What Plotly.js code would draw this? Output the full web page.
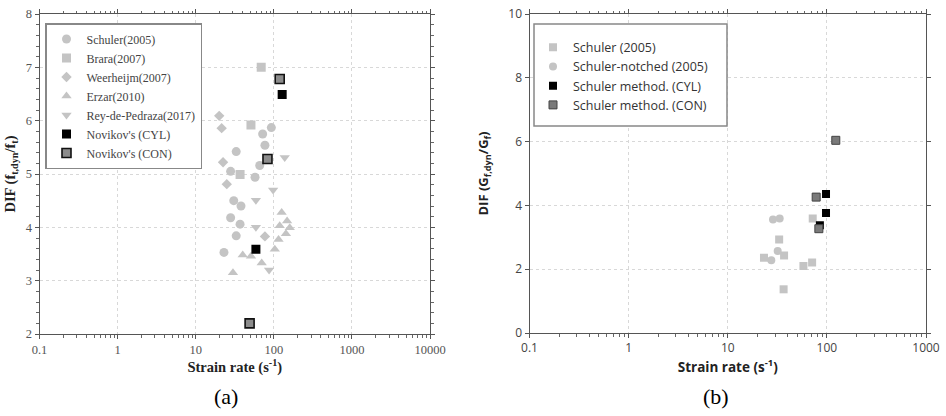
<!DOCTYPE html>
<html>
<head>
<meta charset="utf-8">
<script src="https://cdn.plot.ly/plotly-3.0.1.min.js"></script>
<style>html,body{margin:0;padding:0;background:#fff}#chart{width:946px;height:416px}</style>
</head>
<body>
<div id="chart"></div>
<script>
// ---- Panel (a): tensile DIF ----
const schulerA_x = [93, 72, 77, 33, 66, 28, 57.5, 30.7, 38, 28, 37, 33, 23];
const schulerA_y = [5.87, 5.75, 5.54, 5.42, 5.16, 5.05, 4.94, 4.5, 4.4, 4.18, 4.06, 3.84, 3.53];
const brara_x = [69, 51, 37];
const brara_y = [7.0, 5.92, 4.99];
const weer_x = [20, 21.5, 22.4, 25, 77];
const weer_y = [6.09, 5.86, 5.22, 4.81, 3.83];
const erzar_x = [126, 148, 119, 160, 143, 115, 103, 40, 51, 70, 30];
const erzar_y = [4.28, 4.12, 4.03, 3.99, 3.88, 3.77, 3.59, 3.48, 3.46, 3.33, 3.15];
const rey_x = [138, 98, 59, 59, 87];
const rey_y = [5.31, 4.7, 4.51, 4.0, 3.2];
const novCyl_x = [128, 59];
const novCyl_y = [6.49, 3.59];
const novCon_x = [119, 83, 49];
const novCon_y = [6.78, 5.28, 2.2];

// ---- Panel (b): fracture energy DIF ----
const schulerB_x = [23.2, 33, 37, 36.6, 58, 71, 72];
const schulerB_y = [2.36, 2.93, 2.43, 1.37, 2.1, 2.21, 3.59];
const notched_x = [28.6, 33.4, 31.9, 27.5];
const notched_y = [3.56, 3.59, 2.57, 2.28];
const methCyl_x = [98, 98, 85];
const methCyl_y = [4.36, 3.76, 3.38];
const methCon_x = [78, 83, 123];
const methCon_y = [4.26, 3.27, 6.04];

const tickValsA = [0.1, 1, 10, 100, 1000, 10000];
const tickTextA = ['0.1', '1', '10', '100', '1000', '10000'];
const tickValsB = [0.1, 1, 10, 100, 1000];
const tickTextB = ['0.1', '1', '10', '100', '1000'];

// minor tick positions (2..9 in each decade)
function minorVals(decades) {
  const out = [];
  decades.forEach(d => { for (let k = 2; k <= 9; k++) out.push(k * d); });
  return out;
}
const minorA = minorVals([0.1, 1, 10, 100, 1000]);
const minorB = minorVals([0.1, 1, 10, 100]);

const LG = '#c4c4c4';
const serif = 'Liberation Serif, Times New Roman, serif';
const sans = 'Open Sans, DejaVu Sans, sans-serif';

function tr(x, y, name, sym, size, color, line, xa, ya, leg) {
  return {x: x, y: y, name: name, type: 'scatter', mode: 'markers',
    xaxis: xa, yaxis: ya, legend: leg,
    marker: {symbol: sym, size: size, color: color, line: line || {width: 0}}};
}

const data = [
  tr(schulerA_x, schulerA_y, 'Schuler(2005)', 'circle', 9, LG, null, 'x', 'y', 'legend'),
  tr(brara_x, brara_y, 'Brara(2007)', 'square', 9, LG, null, 'x', 'y', 'legend'),
  tr(weer_x, weer_y, 'Weerheijm(2007)', 'diamond', 8, LG, null, 'x', 'y', 'legend'),
  tr(erzar_x, erzar_y, 'Erzar(2010)', 'triangle-up', 9, LG, null, 'x', 'y', 'legend'),
  tr(rey_x, rey_y, 'Rey-de-Pedraza(2017)', 'triangle-down', 9, LG, null, 'x', 'y', 'legend'),
  tr(novCyl_x, novCyl_y, "Novikov's (CYL)", 'square', 9, '#000', {width: 0}, 'x', 'y', 'legend'),
  tr(novCon_x, novCon_y, "Novikov's (CON)", 'square', 9, '#8c8c8c', {width: 1.6, color: '#111'}, 'x', 'y', 'legend'),
  tr(schulerB_x, schulerB_y, 'Schuler (2005)', 'square', 8, LG, null, 'x2', 'y2', 'legend2'),
  tr(notched_x, notched_y, 'Schuler-notched (2005)', 'circle', 8, LG, null, 'x2', 'y2', 'legend2'),
  tr(methCyl_x, methCyl_y, 'Schuler method. (CYL)', 'square', 8, '#000', {width: 0}, 'x2', 'y2', 'legend2'),
  tr(methCon_x, methCon_y, 'Schuler method. (CON)', 'square', 8, '#7a7a7a', {width: 1, color: '#444'}, 'x2', 'y2', 'legend2')
];

const W = 946, H = 416;
const px = v => v / W, py = v => 1 - v / H;

function xax(dom, range, tv, tt, mv, font, tfont, title, anchor) {
  return {type: 'log', domain: dom, range: range, tickmode: 'array', tickvals: tv, ticktext: tt,
    showline: true, linecolor: '#555', linewidth: 1, mirror: 'ticks',
    ticks: 'outside', ticklen: 4, tickcolor: '#555',
    minor: {tickmode: 'array', tickvals: mv, ticks: 'outside', ticklen: 2.5, tickcolor: '#666', showgrid: false},
    showgrid: true, gridcolor: '#d8d8d8', griddash: 'dot', zeroline: false,
    tickfont: font, title: {text: title, font: tfont, standoff: 2}, anchor: anchor};
}

const layout = {
  width: W, height: H, margin: {l: 0, r: 0, t: 0, b: 0},
  paper_bgcolor: '#fff', plot_bgcolor: '#fff', showlegend: true,
  xaxis: xax([px(39.5), px(430)], [-1, 4], tickValsA, tickTextA, minorA,
    {family: serif, size: 12.5, color: '#555'}, {family: serif, size: 14.5, color: '#222'},
    '<b>Strain rate (s<sup>-1</sup>)</b>', 'y'),
  yaxis: {domain: [py(334), py(14)], range: [2, 8], dtick: 1, anchor: 'x',
    showline: true, linecolor: '#555', mirror: 'ticks', ticks: 'outside', ticklen: 4, tickcolor: '#555',
    minor: {dtick: 0.2, ticks: 'outside', ticklen: 2.5, tickcolor: '#666', showgrid: false},
    showgrid: true, gridcolor: '#d8d8d8', griddash: 'dot', zeroline: false,
    tickfont: {family: serif, size: 12.5, color: '#555'},
    title: {text: '<b>DIF (f<sub>t,dyn</sub>/f<sub>t</sub>)</b>', font: {family: serif, size: 14.5, color: '#222'}, standoff: 6}},
  xaxis2: xax([px(529.5), px(926)], [-1, 3], tickValsB, tickTextB, minorB,
    {family: sans, size: 12, color: '#444'}, {family: sans, size: 13.5, color: '#222'},
    '<b>Strain rate (s<sup>-1</sup>)</b>', 'y2'),
  yaxis2: {domain: [py(333), py(14)], range: [0, 10], dtick: 2, anchor: 'x2',
    showline: true, linecolor: '#555', mirror: 'ticks', ticks: 'outside', ticklen: 4, tickcolor: '#555',
    showgrid: true, gridcolor: '#d8d8d8', griddash: 'dot', zeroline: false,
    tickfont: {family: sans, size: 12, color: '#444'},
    title: {text: '<b>DIF (G<sub>f,dyn</sub>/G<sub>f</sub>)</b>', font: {family: sans, size: 13, color: '#222'}, standoff: 16}},
  legend: {x: px(45), y: py(23), xanchor: 'left', yanchor: 'top',
    bgcolor: '#fff', bordercolor: '#888', borderwidth: 1.5,
    font: {family: serif, size: 12, color: '#444'}},
  legend2: {x: px(533), y: py(76), xanchor: 'left', yanchor: 'middle',
    bgcolor: 'rgba(0,0,0,0)', borderwidth: 0,
    font: {family: sans, size: 12.5, color: '#333'}},
  shapes: [
    {type: 'rect', xref: 'paper', yref: 'paper', x0: px(534), x1: px(727), y0: py(126), y1: py(24),
     line: {color: '#888', width: 1.5}, fillcolor: '#fff', layer: 'above'}
  ],
  annotations: [
    {text: '(a)', xref: 'paper', yref: 'paper', x: px(226), y: py(396), xanchor: 'center', yanchor: 'middle', showarrow: false,
     font: {family: serif, size: 22, color: '#000'}},
    {text: '(b)', xref: 'paper', yref: 'paper', x: px(716), y: py(396), xanchor: 'center', yanchor: 'middle', showarrow: false,
     font: {family: serif, size: 22, color: '#000'}}
  ]
};

Plotly.newPlot('chart', data, layout, {displayModeBar: false, staticPlot: true});
</script>
</body>
</html>
